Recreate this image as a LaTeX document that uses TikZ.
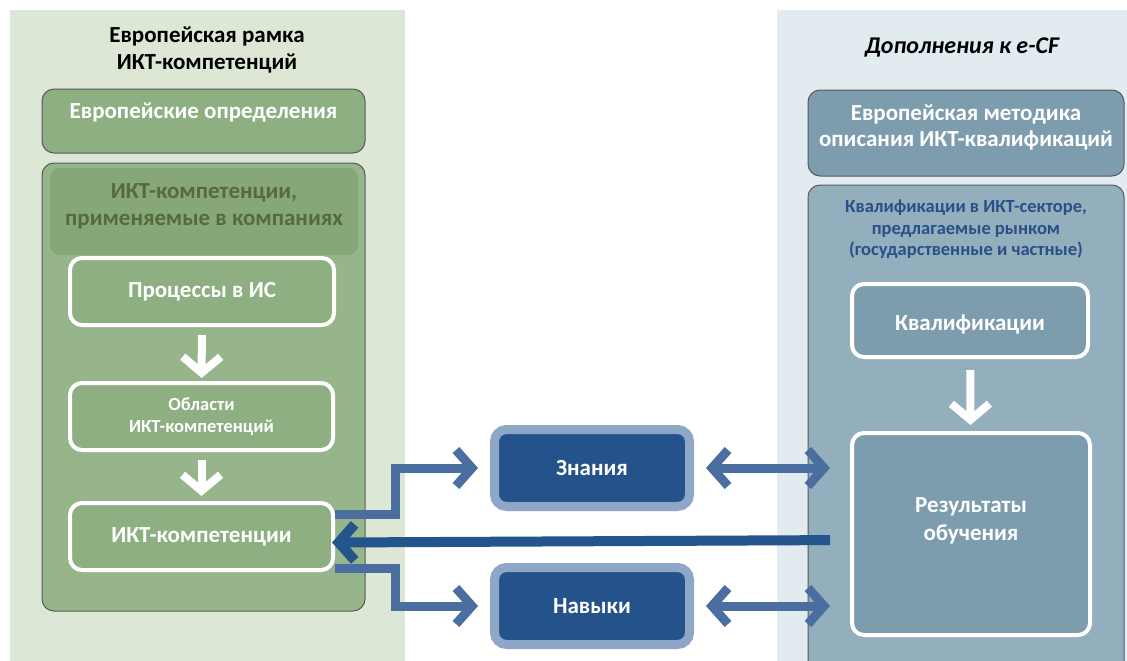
\documentclass[tikz,border=0pt]{standalone}
\usepackage{fontspec}
\setmainfont{Carlito}
\usetikzlibrary{arrows.meta}

\definecolor{leftbg}{HTML}{DCE7D6}
\definecolor{greenbox}{HTML}{8DAF81}
\definecolor{greenband}{HTML}{86A879}
\definecolor{greentext}{HTML}{566B3A}
\definecolor{rightbg}{HTML}{E2EBF0}
\definecolor{slatebox}{HTML}{7D9DAE}
\definecolor{slatebig}{HTML}{93AEBD}
\definecolor{marketblue}{HTML}{2B4F87}
\definecolor{boxblue}{HTML}{24528A}
\definecolor{edgeblue}{HTML}{8EA7C6}
\definecolor{linkblue}{HTML}{4A6EA0}
\definecolor{darkblue}{HTML}{23548B}

\tikzset{
    panelbox/.style={draw=black!65, line width=1pt, rounded corners=12pt},
    stepbox/.style={draw=white, line width=4pt, rounded corners=12pt, text=white,
        font=\fontsize{23}{28}\selectfont\bfseries, align=center},
    bluebox/.style={draw=edgeblue, fill=boxblue, line width=9pt, rounded corners=12pt,
        text=white, font=\fontsize{23}{28}\selectfont\bfseries,
        minimum width=195pt, minimum height=77pt},
    whitearrow/.style={draw=white, line width=8pt,
        -{Straight Barb[length=16pt,width=38pt]}},
    link/.style={draw=linkblue, line width=9pt,
        -{Straight Barb[length=16pt,width=36pt]}},
    biglink/.style={draw=darkblue, line width=10pt,
        -{Straight Barb[length=16pt,width=36pt]}}
}

\begin{document}
\begin{tikzpicture}[x=1pt, y=-1pt]
    \useasboundingbox (0,0) rectangle (1127,661);
    \fill[white] (0,0) rectangle (1127,661);
    % background panels
    \fill[leftbg] (10,10) rectangle (405,661);
    \fill[rightbg] (777,10) rectangle (1127,661);

    % left panel
    \node[font=\fontsize{23}{27}\selectfont\bfseries, align=center] (ltitle) at (207,50)
        {Европейская рамка\\ИКТ-компетенций};
    \node[panelbox, fill=greenbox, minimum width=323pt, minimum height=64pt,
        label={[anchor=north, yshift=-11pt, text=white, font=\fontsize{23}{28}\selectfont\bfseries]north:Европейские определения}]
        (defs) at (203.5,121) {};
    \node[panelbox, fill=greenbox!92!white, minimum width=323pt, minimum height=448pt] (apply) at (203.5,387) {};
    \node[fill=greenband, rounded corners=10pt, minimum width=308pt, minimum height=87pt,
        text=greentext, font=\fontsize{23}{27}\selectfont\bfseries, align=center, text depth=14pt]
        (band) at (204,211.5) {ИКТ-компетенции,\\применяемые в компаниях};
    \node[stepbox, fill=greenbox, minimum width=264pt, minimum height=67pt] (proc) at (202,291.5) {Процессы в ИС};
    \node[stepbox, fill=greenbox, minimum width=263pt, minimum height=67pt,
        font=\fontsize{18.5}{22}\selectfont\bfseries] (areas) at (201.5,416.5) {Области\\ИКТ-компетенций};
    \node[stepbox, fill=greenbox, minimum width=263pt, minimum height=67pt] (ict) at (201.5,536.5) {ИКТ-компетенции};
    \draw[whitearrow, shorten <=8pt, shorten >=3pt] (proc) -- (areas);
    \draw[whitearrow, shorten <=8pt, shorten >=5pt] (areas) -- (ict);

    % right panel
    \node[font=\fontsize{24}{28}\selectfont\bfseries\itshape] (rtitle) at (962,47) {Дополнения к e-CF};
    \node[panelbox, fill=slatebox, minimum width=316pt, minimum height=86pt,
        text=white, font=\fontsize{23}{26}\selectfont\bfseries, align=center, text depth=14pt]
        (method) at (966,133) {Европейская методика\\описания ИКТ-квалификаций};
    \node[panelbox, fill=slatebig, minimum width=316pt, minimum height=505pt,
        label={[anchor=north, yshift=-12pt, text=marketblue, align=center, font=\fontsize{18.5}{21.5}\selectfont\bfseries]north:Квалификации в ИКТ-секторе,\\предлагаемые рынком\\(государственные и частные)}]
        (market) at (966,437.5) {};
    \node[stepbox, fill=slatebox, minimum width=236pt, minimum height=73pt, text height=24pt]
        (qual) at (970,320.5) {Квалификации};
    \node[stepbox, fill=slatebox, minimum width=238pt, minimum height=202pt, text depth=30pt]
        (result) at (971,534) {Результаты\\обучения};
    \draw[whitearrow, shorten <=11pt, shorten >=6pt] (qual) -- (result);

    % middle
    \node[bluebox] (know) at (592,468) {Знания};
    \node[bluebox] (skill) at (592,606) {Навыки};
    \draw[link, shorten >=12pt] ([yshift=22pt]ict.east) -- ++(60,0) |- (know.west);
    \draw[link, shorten >=12pt] ([yshift=-32pt]ict.east) -- ++(60,0) |- (skill.west);
    \draw[link, {Straight Barb[length=16pt,width=36pt]}-{Straight Barb[length=16pt,width=36pt]},
        shorten <=12pt, shorten >=20pt] (know.east) -- (result.west |- know.east);
    \draw[link, {Straight Barb[length=16pt,width=36pt]}-{Straight Barb[length=16pt,width=36pt]},
        shorten <=12pt, shorten >=20pt] (skill.east) -- (result.west |- skill.east);
    \draw[biglink, shorten <=20pt, shorten >=-3pt] ([yshift=-6pt]result.west) -- (ict.east |- 0,542.5);
\end{tikzpicture}
\end{document}
